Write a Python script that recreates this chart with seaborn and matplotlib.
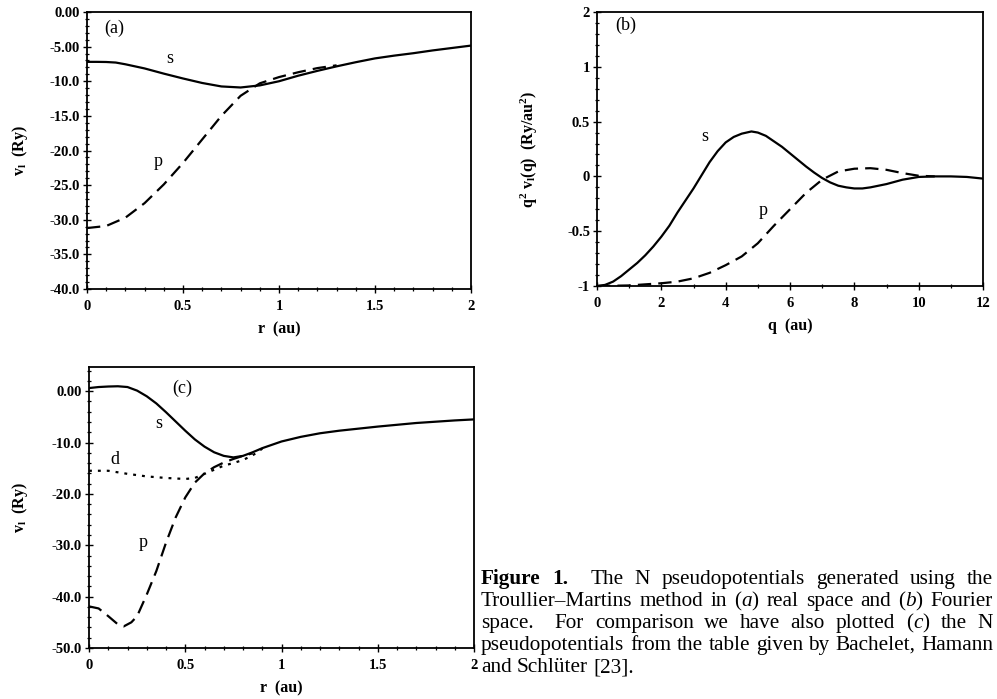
import re
import pandas as pd
import matplotlib
import matplotlib.pyplot as plt
from matplotlib.ticker import MultipleLocator
import seaborn as sns

matplotlib.use('Agg')

# (a) Troullier-Martins pseudopotentials, real space
r_a_s = [0, 0.05, 0.1, 0.15, 0.2, 0.25, 0.3, 0.4, 0.5, 0.6, 0.7, 0.8, 0.9, 1.0,
         1.1, 1.2, 1.3, 1.4, 1.5, 1.6, 1.7, 1.8, 1.9, 2.0]
v_a_s = [-7.2, -7.2, -7.22, -7.3, -7.55, -7.85, -8.15, -8.9, -9.6, -10.25, -10.75,
         -10.9, -10.6, -10.0, -9.2, -8.5, -7.85, -7.25, -6.7, -6.3, -5.95, -5.55,
         -5.2, -4.85]
r_a_p = [0, 0.1, 0.2, 0.3, 0.4, 0.5, 0.6, 0.7, 0.8, 0.9, 1.0, 1.1, 1.2, 1.3]
v_a_p = [-31.2, -30.9, -29.7, -27.6, -24.9, -21.8, -18.4, -15.0, -12.1, -10.3,
         -9.4, -8.7, -8.1, -7.7]

# (b) same, Fourier space: q^2 v_l(q)
q_b_s = [0, 0.25, 0.5, 0.75, 1, 1.25, 1.5, 1.75, 2, 2.25, 2.5, 2.75, 3, 3.25, 3.5,
         3.75, 4, 4.25, 4.5, 4.8, 5, 5.25, 5.5, 5.75, 6, 6.25, 6.5, 6.75, 7, 7.25,
         7.5, 7.75, 8, 8.25, 8.5, 9, 9.5, 10, 10.5, 11, 11.5, 12]
v_b_s = [-1.0, -0.99, -0.96, -0.91, -0.85, -0.79, -0.72, -0.64, -0.55, -0.45,
         -0.33, -0.22, -0.11, 0.01, 0.13, 0.23, 0.31, 0.36, 0.39, 0.41, 0.40, 0.37,
         0.32, 0.27, 0.21, 0.15, 0.09, 0.035, -0.015, -0.055, -0.085, -0.10, -0.11,
         -0.11, -0.10, -0.07, -0.03, -0.005, 0.0, 0.0, -0.005, -0.02]
q_b_p = [0, 1, 2, 2.5, 3, 3.5, 4, 4.5, 5, 5.5, 6, 6.5, 7, 7.5, 8, 8.5, 9, 9.5,
         10, 10.5]
v_b_p = [-1.0, -0.995, -0.975, -0.96, -0.93, -0.88, -0.81, -0.73, -0.61, -0.45,
         -0.30, -0.15, -0.03, 0.045, 0.07, 0.075, 0.06, 0.03, 0.006, 0.0]

# (c) Bachelet-Hamann-Schlueter pseudopotentials
r_c_s = [0, 0.05, 0.1, 0.15, 0.2, 0.25, 0.3, 0.35, 0.4, 0.45, 0.5, 0.55, 0.6,
         0.65, 0.7, 0.75, 0.8, 0.85, 0.9, 1.0, 1.1, 1.2, 1.3, 1.4, 1.5, 1.6, 1.7,
         1.8, 1.9, 2.0]
v_c_s = [0.6, 0.8, 0.9, 0.95, 0.8, 0.1, -1.0, -2.4, -4.1, -5.9, -7.7, -9.4, -10.8,
         -11.9, -12.6, -12.9, -12.6, -11.9, -11.1, -9.8, -8.9, -8.2, -7.7, -7.3,
         -6.9, -6.55, -6.2, -5.95, -5.7, -5.5]
r_c_p = [0, 0.05, 0.1, 0.15, 0.18, 0.22, 0.25, 0.3, 0.35, 0.4, 0.45, 0.5, 0.55,
         0.6, 0.65, 0.7, 0.75, 0.8, 0.85]
v_c_p = [-41.9, -42.3, -43.8, -45.4, -45.8, -45.0, -43.8, -39.6, -35.0, -29.5,
         -24.6, -20.7, -17.8, -16.0, -14.8, -13.9, -13.2, -12.6, -12.1]
r_c_d = [0, 0.1, 0.2, 0.3, 0.4, 0.5, 0.55, 0.6, 0.65, 0.7, 0.75, 0.8, 0.85, 0.9]
v_c_d = [-15.5, -15.5, -16.1, -16.6, -16.9, -17.1, -16.9, -16.1, -15.3, -14.5,
         -14.0, -13.4, -12.5, -11.2]

# tick labels as printed
r_ticks = [0, 0.5, 1, 1.5, 2]
r_labels = ['0', '0.5', '1', '1.5', '2']
q_ticks = [0, 2, 4, 6, 8, 10, 12]
q_labels = ['0', '2', '4', '6', '8', '10', '12']
ya_ticks = [0, -5, -10, -15, -20, -25, -30, -35, -40]
ya_labels = ['0.00', '-5.00', '-10.0', '-15.0', '-20.0', '-25.0', '-30.0', '-35.0', '-40.0']
yb_ticks = [-1, -0.5, 0, 0.5, 1, 1.5]
yb_labels = ['-1', '-0.5', '0', '0.5', '1', '2']
yc_ticks = [0, -10, -20, -30, -40, -50]
yc_labels = ['0.00', '-10.0', '-20.0', '-30.0', '-40.0', '-50.0']

caption_lines = [
    "*Figure *1.  The N pseudopotentials generated using the",
    r"Troullier–Martins method in ($\mathit{a}$) real space and ($\mathit{b}$) Fourier",
    r"space.  For comparison we have also plotted ($\mathit{c}$) the N",
    "pseudopotentials from the table given by Bachelet, Hamann",
    "and Schlüter [23].",
]

sns.set_style('ticks')
plt.rcParams['font.family'] = ['Liberation Serif', 'DejaVu Serif']
plt.rcParams['mathtext.fontset'] = 'custom'
plt.rcParams['mathtext.rm'] = 'Liberation Serif'
plt.rcParams['mathtext.it'] = 'Liberation Serif:italic'
plt.rcParams['mathtext.bf'] = 'Liberation Serif:bold'
plt.rcParams['mathtext.default'] = 'regular'
for k in ['axes.edgecolor', 'xtick.color', 'ytick.color', 'text.color', 'axes.labelcolor']:
    plt.rcParams[k] = 'black'

W, H = 997, 699
fig = plt.figure(figsize=(W / 100, H / 100), dpi=100)


def px_axes(x0, y0, x1, y1):
    return fig.add_axes([x0 / W, 1 - y1 / H, (x1 - x0) / W, (y1 - y0) / H])


ax_a = px_axes(87, 12, 471, 289)
ax_b = px_axes(597, 12, 983, 286)
ax_c = px_axes(89, 367, 474, 648)


def long_df(xname, parts):
    return pd.concat([pd.DataFrame({xname: x, 'v': y, 'l': name}) for name, x, y in parts],
                     ignore_index=True)


dash_styles = {'s': '', 'p': (6, 3.2), 'd': (1.3, 2.7)}

df_a = long_df('r', [('s', r_a_s, v_a_s), ('p', r_a_p, v_a_p)])
df_b = long_df('q', [('s', q_b_s, v_b_s), ('p', q_b_p, v_b_p)])
df_c = long_df('r', [('s', r_c_s, v_c_s), ('p', r_c_p, v_c_p), ('d', r_c_d, v_c_d)])

for ax, df, x in [(ax_a, df_a, 'r'), (ax_b, df_b, 'q'), (ax_c, df_c, 'r')]:
    sns.lineplot(data=df, x=x, y='v', style='l', dashes=dash_styles, color='black',
                 lw=1.6, estimator=None, legend=False, ax=ax)


def style_axes(ax, xlim, xt, xl, xminor, ylim, yt, yl, yminor):
    ax.set_xlim(*xlim)
    ax.set_ylim(*ylim)
    ax.set_xticks(xt, xl, fontsize=10.5, fontweight='bold')
    ax.set_yticks(yt, yl, fontsize=10.5, fontweight='bold')
    ax.xaxis.set_minor_locator(MultipleLocator(xminor))
    ax.yaxis.set_minor_locator(MultipleLocator(yminor))
    ax.tick_params(which='major', direction='inout', length=6, width=1.0)
    ax.tick_params(which='minor', direction='inout', length=3.5, width=0.9)
    ax.tick_params(axis='x', which='both', pad=5)
    ax.tick_params(axis='y', which='both', pad=2)
    for sp in ax.spines.values():
        sp.set_visible(True)
        sp.set_linewidth(1.3)


style_axes(ax_a, (0, 2), r_ticks, r_labels, 0.1, (-40, 0), ya_ticks, ya_labels, 1)
style_axes(ax_b, (0, 12), q_ticks, q_labels, 1, (-1, 1.5), yb_ticks, yb_labels, 0.1)
style_axes(ax_c, (0, 2), r_ticks, r_labels, 0.1, (-50, 4.7), yc_ticks, yc_labels, 2)

lab = dict(fontsize=11.5, fontweight='bold')
for ax, xl, yl, ly in [(ax_a, 'r  (au)', r'v$_{l}$  (Ry)', -0.174),
                       (ax_b, 'q  (au)', r'q$^{2}$ v$_{l}$(q)  (Ry/au$^{2}$)', -0.176),
                       (ax_c, 'r  (au)', r'v$_{l}$  (Ry)', -0.179)]:
    ax.set_xlabel(xl, **lab)
    ax.set_ylabel(yl, **lab)
    ax.xaxis.label.set_va('center')
    ax.yaxis.label.set_va('center')
    ax.xaxis.set_label_coords(0.5, -0.145)
    ax.yaxis.set_label_coords(ly, 0.5)

txt = dict(fontsize=13, ha='center', va='center')
ax_a.text(0.07, 0.942, '(a)', transform=ax_a.transAxes, **txt)
ax_a.text(0.43, -6.7, 's', **txt)
ax_a.text(0.37, -21.6, 'p', **txt)
ax_b.text(0.075, 0.953, '(b)', transform=ax_b.transAxes, **txt)
ax_b.text(3.36, 0.36, 's', **txt)
ax_b.text(5.16, -0.315, 'p', **txt)
ax_c.text(0.242, 0.925, '(c)', transform=ax_c.transAxes, **txt)
ax_c.text(0.36, -6.25, 's', **txt)
ax_c.text(0.135, -13.3, 'd', **txt)
ax_c.text(0.28, -29.5, 'p', **txt)

# caption, justified between x0 and x1
renderer = fig.canvas.get_renderer()
cap_fs = 15.3
x0, x1 = 481, 993
baselines = [584, 606, 628, 650, 672]
for i, line in enumerate(caption_lines):
    tokens = re.split(r'( +)', line)
    words, gaps = tokens[0::2], [len(s) for s in tokens[1::2]]
    objs = []
    for w in words:
        bold = w.startswith('*')
        t = fig.text(x0 / W, 1 - baselines[i] / H, w.lstrip('*'), fontsize=cap_fs,
                     fontweight='bold' if bold else 'normal', ha='left', va='baseline')
        objs.append(t)
    widths = [t.get_window_extent(renderer).width for t in objs]
    if i < len(caption_lines) - 1:
        unit = (x1 - x0 - sum(widths)) / sum(gaps)
    else:
        unit = 0.25 * cap_fs * 100 / 72
    x = x0
    for j, t in enumerate(objs):
        t.set_x(x / W)
        x += widths[j]
        if j < len(gaps):
            x += gaps[j] * unit

fig.savefig('out.png', dpi=100)
